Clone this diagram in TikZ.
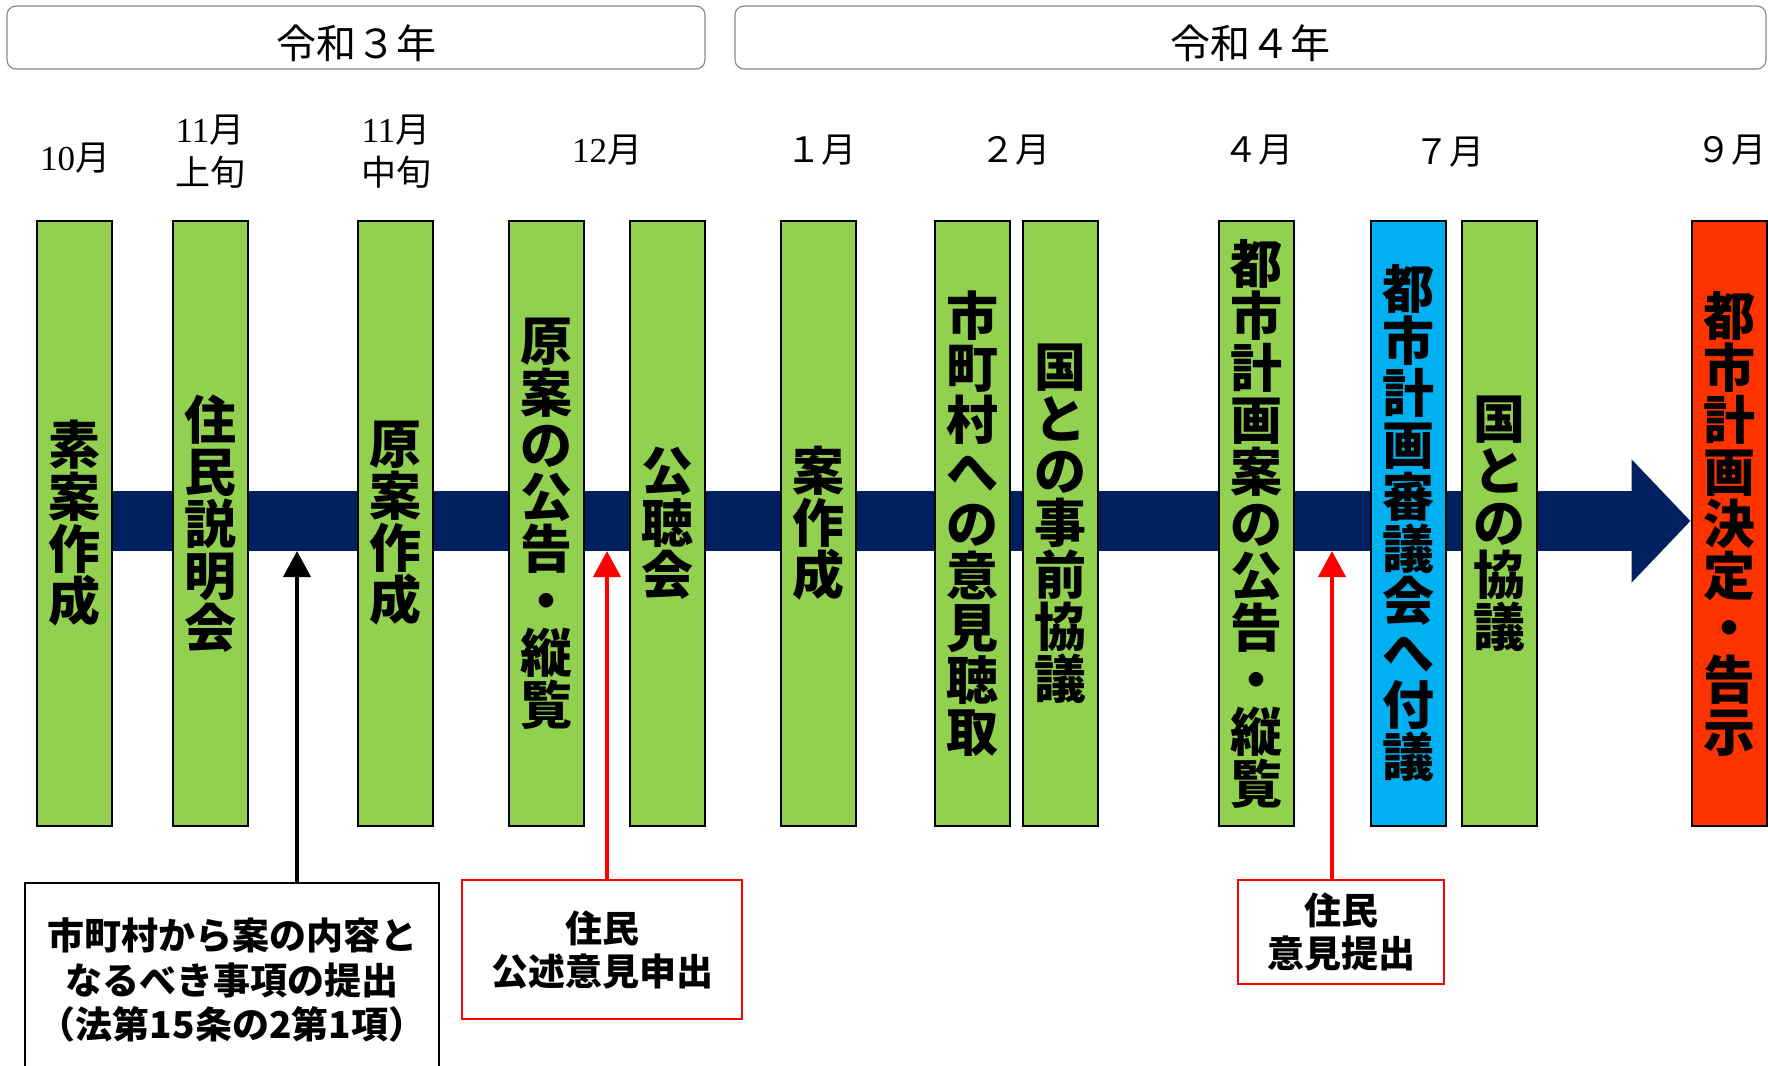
\documentclass[tikz,border=0pt]{standalone}
\usepackage{fontspec}
\newfontfamily\jp{Noto Sans CJK JP}
\newfontfamily\sernum{Liberation Serif}
\usetikzlibrary{arrows.meta,backgrounds}
\definecolor{bargreen}{HTML}{92D050}
\definecolor{barblue}{HTML}{00B0F0}
\definecolor{barred}{HTML}{FF3300}
\definecolor{navy}{HTML}{002060}
\definecolor{yeargray}{HTML}{8C8C8C}
\begin{document}
\begin{tikzpicture}[x=1pt,y=-1pt,
  barbase/.style={draw=black, line width=2pt, minimum width=75pt, minimum height=605pt,
    inner sep=0pt, align=center, font=\jp\bfseries\fontsize{52}{52}\selectfont},
  greenbar/.style={barbase, fill=bargreen},
  bluebar/.style={barbase, fill=barblue},
  redbar/.style={barbase, fill=barred},
  yearbox/.style={draw=yeargray, line width=1.2pt, rounded corners=9pt, fill=white,
    minimum height=63pt, inner sep=0pt},
  yeartext/.style={inner sep=0pt, font=\jp\fontsize{40}{40}\selectfont},
  month/.style={align=center, inner sep=0pt, font=\jp\fontsize{35}{43}\selectfont},
  notebox/.style={draw=black, line width=1.5pt, align=center, inner sep=0pt,
    font=\jp\bfseries\fontsize{37}{44.5}\selectfont},
  redbox/.style={draw=red, line width=2pt, align=center, inner sep=0pt,
    font=\jp\bfseries\fontsize{37}{43}\selectfont},
  blkarrow/.style={draw=black, line width=4pt, -{Triangle[length=26pt,width=27pt]}},
  redarrow/.style={draw=red, line width=4pt, -{Triangle[length=26pt,width=27pt]}},
  mainarrow/.style={draw=navy, line width=60pt, -{Triangle[length=59pt,width=120pt]}}
]
\useasboundingbox (0,0) rectangle (1768,1065);
\clip (0,0) rectangle (1768,1065);

% year headers
\node[yearbox, minimum width=698pt] (y3) at (356,37.5) {};
\node[yeartext] (y3t) at (356,43) {令和３年};
\node[yearbox, minimum width=1031pt] (y4) at (1250.5,37.5) {};
\node[yeartext] (y4t) at (1250.5,43) {令和４年};

% month labels
\node[month] (m10) at (75,158) {{\sernum 10}月};
\node[month] (m11a) at (210,152) {{\sernum 11}月\\上旬};
\node[month] (m11b) at (396,152) {{\sernum 11}月\\中旬};
\node[month] (m12) at (607,150) {{\sernum 12}月};
\node[month] (m1) at (821,150) {１月};
\node[month] (m2) at (1015,150) {２月};
\node[month] (m4) at (1258,150) {４月};
\node[month] (m7) at (1449,152) {７月};
\node[month] (m9) at (1731,150) {９月};

% bars
\node[greenbar] (b1) at (74,523.5) {素\\案\\作\\成};
\node[greenbar] (b2) at (210.5,523.5) {住\\民\\説\\明\\会};
\node[greenbar] (b3) at (395,523.5) {原\\案\\作\\成};
\node[greenbar] (b4) at (546.5,523.5) {原\\案\\の\\公\\告\\・\\縦\\覧};
\node[greenbar] (b5) at (667,523.5) {公\\聴\\会};
\node[greenbar] (b6) at (818,523.5) {案\\作\\成};
\node[greenbar] (b7) at (972.5,523.5) {市\\町\\村\\へ\\の\\意\\見\\聴\\取};
\node[greenbar] (b8) at (1060.5,523.5) {国\\と\\の\\事\\前\\協\\議};
\node[greenbar] (b9) at (1256.5,523.5) {都\\市\\計\\画\\案\\の\\公\\告\\・\\縦\\覧};
\node[bluebar] (b10) at (1408,523.5) {都\\市\\計\\画\\審\\議\\会\\へ\\付\\議};
\node[greenbar] (b11) at (1499,523.5) {国\\と\\の\\協\\議};
\node[redbar] (b12) at (1729,523.5) {都\\市\\計\\画\\決\\定\\・\\告\\示};

% main timeline arrow (behind bars)
\coordinate (start) at (60,521);
\begin{scope}[on background layer]
  \draw[mainarrow] (start) -- (b12.west |- start);
\end{scope}

% lower boxes
\node[notebox, minimum width=414pt, minimum height=194pt] (nb) at (232,980)
  {市町村から案の内容と\\なるべき事項の提出\\（法第15条の2第1項）};
\node[redbox, minimum width=280pt, minimum height=139pt] (rb1) at (602,949.5)
  {住民\\公述意見申出};
\node[redbox, minimum width=206pt, minimum height=104pt] (rb2) at (1341,932)
  {住民\\意見提出};

% pointer arrows
\coordinate (tA) at (297,551);
\coordinate (tB) at (607,551);
\coordinate (tC) at (1332,551);
\draw[blkarrow] (nb.north -| tA) -- (tA);
\draw[redarrow] (rb1.north -| tB) -- (tB);
\draw[redarrow] (rb2.north -| tC) -- (tC);
\end{tikzpicture}
\end{document}
